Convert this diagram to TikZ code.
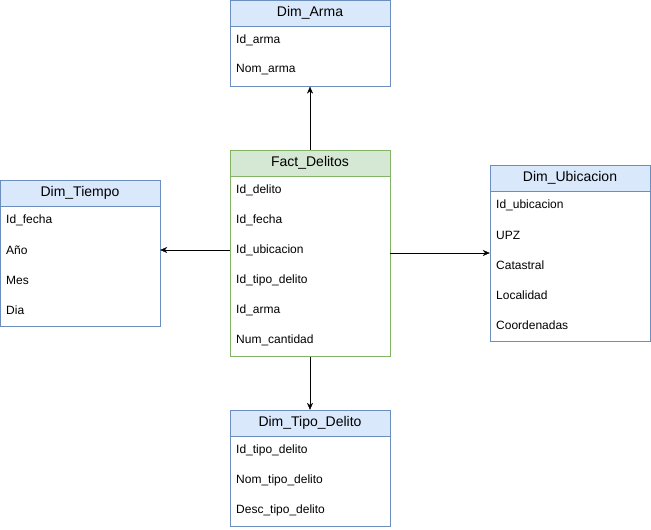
\documentclass[tikz,border=0pt]{standalone}
\usepackage{fontspec}
\setmainfont{Liberation Sans}
\usetikzlibrary{arrows.meta,positioning}
\definecolor{headblue}{HTML}{DAE8FC}
\definecolor{lineblue}{HTML}{6C8EBF}
\definecolor{headgreen}{HTML}{D5E8D4}
\definecolor{linegreen}{HTML}{82B366}

\begin{document}
\begin{tikzpicture}[>={Stealth[length=7pt,width=6pt]}, x=1pt, y=-1pt]
            \tikzstyle{tabhead}=[rectangle, draw=lineblue, fill=headblue, minimum width=160pt, minimum height=26pt, inner sep=0pt, font=\fontsize{14}{16}\selectfont]
            \tikzstyle{tabbody}=[rectangle, draw=lineblue, fill=white, minimum width=160pt, inner sep=0pt, below=0pt]
            \tikzstyle{field}=[anchor=west, inner sep=0pt, font=\fontsize{12}{14}\selectfont]
            \useasboundingbox (0,0) rectangle (651,530);

            % Dim_Arma
            \node[tabhead] (arma) at (310,13) {Dim\_Arma};
            \node[tabbody, minimum height=60pt] at (arma.south) (armaB) {};
            \node[field] (a1) at (236,40) {Id\_arma};
            \node[field] (a2) at (236,70) {Nom\_arma};

            % Fact_Delitos
            \node[tabhead, draw=linegreen, fill=headgreen] (fact) at (310,163) {Fact\_Delitos};
            \node[tabbody, draw=linegreen, minimum height=180pt] at (fact.south) (factB) {};
            \node[field] (f1) at (236,190) {Id\_delito};
            \node[field] (f2) at (236,220) {Id\_fecha};
            \node[field] (f3) at (236,250) {Id\_ubicacion};
            \node[field] (f4) at (236,280) {Id\_tipo\_delito};
            \node[field] (f5) at (236,310) {Id\_arma};
            \node[field] (f6) at (236,340) {Num\_cantidad};

            % Dim_Tiempo
            \node[tabhead] (tiempo) at (80,193) {Dim\_Tiempo};
            \node[tabbody, minimum height=120pt] at (tiempo.south) (tiempoB) {};
            \node[field] (t1) at (6,220) {Id\_fecha};
            \node[field] (t2) at (6,250) {Año};
            \node[field] (t3) at (6,280) {Mes};
            \node[field] (t4) at (6,310) {Dia};

            % Dim_Ubicacion
            \node[tabhead] (ubic) at (570,178) {Dim\_Ubicacion};
            \node[tabbody, minimum height=150pt] at (ubic.south) (ubicB) {};
            \node[field] (u1) at (496,205) {Id\_ubicacion};
            \node[field] (u2) at (496,235) {UPZ};
            \node[field] (u3) at (496,265) {Catastral};
            \node[field] (u4) at (496,295) {Localidad};
            \node[field] (u5) at (496,325) {Coordenadas};

            % Dim_Tipo_Delito
            \node[tabhead] (tipo) at (310,423) {Dim\_Tipo\_Delito};
            \node[tabbody, minimum height=90pt] at (tipo.south) (tipoB) {};
            \node[field] (d1) at (236,450) {Id\_tipo\_delito};
            \node[field] (d2) at (236,480) {Nom\_tipo\_delito};
            \node[field] (d3) at (236,510) {Desc\_tipo\_delito};

            % Relations
            \coordinate (r) at (400,253);
            \draw[->] (fact.north) -- (armaB.south);
            \draw[->] (factB.west |- f3) -- (tiempoB.east |- f3);
            \draw[->] (factB.east |- r) -- (ubicB.west |- r);
            \draw[->] (factB.south) -- (tipo.north);
\end{tikzpicture}
\end{document}
